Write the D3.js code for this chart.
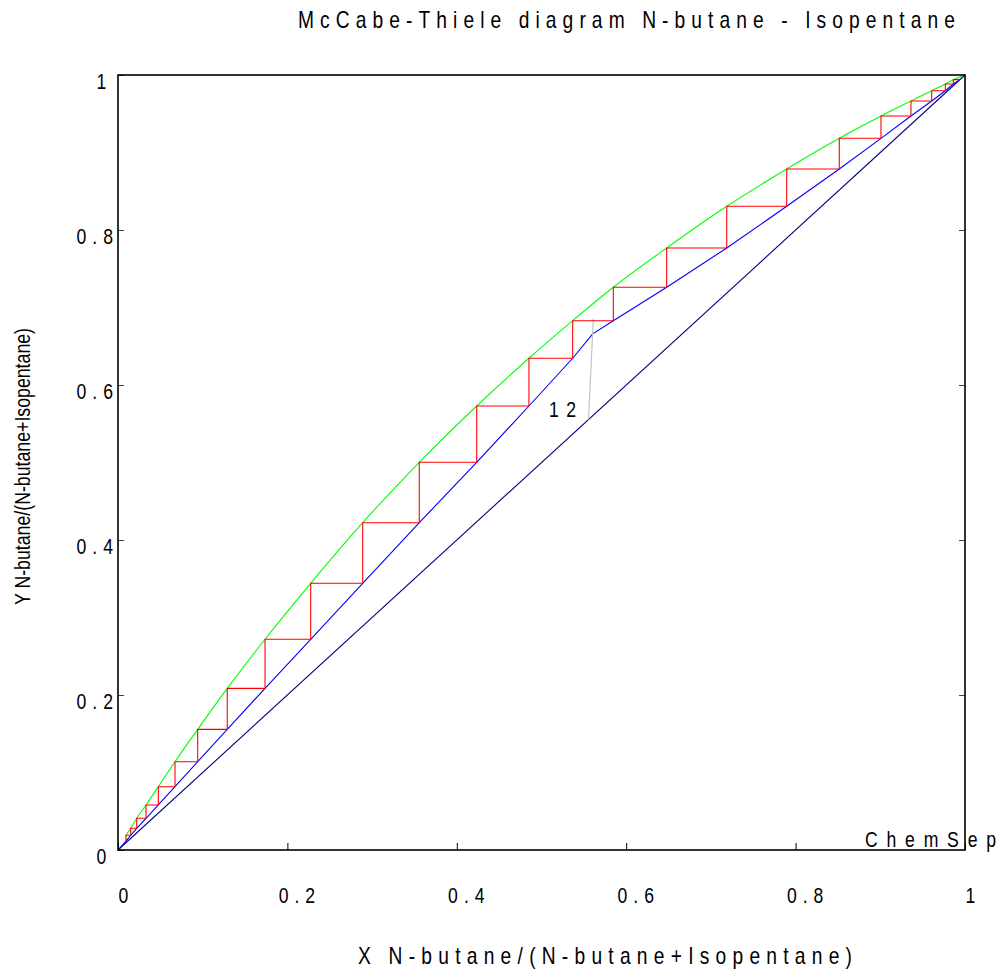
<!DOCTYPE html>
<html>
<head>
<meta charset="utf-8">
<script src="https://cdn.jsdelivr.net/npm/d3@7"></script>
<style>
  html, body { margin: 0; padding: 0; background: #fff; }
  svg { display: block; }
  text { font-family: "Liberation Sans", Arial, sans-serif; fill: #000; }
</style>
</head>
<body>
<svg id="chart" width="1002" height="975"></svg>
<script>
// Liquid (x) and vapour (y) mole fractions of N-butane on each stage, top of column first
const stageX = [0.9862, 0.9768, 0.9607, 0.9362, 0.9008, 0.8516, 0.7895, 0.7187, 0.6478, 0.5848,
                0.5368, 0.4852, 0.4235, 0.3557, 0.2889, 0.2275, 0.1736, 0.1290, 0.0941, 0.0673,
                0.0476, 0.0331, 0.0221, 0.0150, 0.0094];
const stageY = [0.9940, 0.9884, 0.9797, 0.9665, 0.9471, 0.9183, 0.8787, 0.8306, 0.7768, 0.7261,
                0.6830, 0.6345, 0.5729, 0.5003, 0.4223, 0.3441, 0.2719, 0.2086, 0.1557, 0.1139,
                0.0817, 0.0581, 0.0409, 0.0280, 0.0190];

// Top product composition, operating-line value under the last stage, and column ends
const distillateX = 0.994;
const lastOpY = 0.0115;
const opBottomX = [0.0];
const opBottomY = [0.0];

// Where the rectifying and stripping operating lines meet
const feedX = [0.5604];
const feedY = [0.6660];

// Equilibrium curve continues past the top stage
const eqTopX = [0.998];
const eqTopY = [0.999];

// Feed (q) line
const qLineX = [0.5555, 0.5612];
const qLineY = [0.5555, 0.6860];

// y = x diagonal
const diagX = [0, 1];
const diagY = [0, 1];

const tickValues = [0, 0.2, 0.4, 0.6, 0.8, 1];
const feedStageLabel = "12";
const titleText = "McCabe-Thiele diagram N-butane - Isopentane";
const xLabelText = "X N-butane/(N-butane+Isopentane)";
const yLabelText = "Y N-butane/(N-butane+Isopentane)";
const brandText = "ChemSep";

const svg = d3.select("#chart");
const W = 1002, H = 975;
const SX = 0.8; // horizontal squeeze of the condensed lettering
svg.append("rect").attr("width", W).attr("height", H).attr("fill", "#fff");

const x = d3.scaleLinear().domain([0, 1]).range([118, 965]);
const y = d3.scaleLinear().domain([0, 1]).range([850, 75]);

const line = d3.line().x(d => x(d[0])).y(d => y(d[1]));
const zip = (a, b) => a.map((v, i) => [v, b[i]]);

// Condensed, letter-spaced label stretched to a given width
function spacedText(px, py, str, size, width) {
  return svg.append("text")
    .attr("transform", `translate(${px},${py}) scale(${SX},1)`)
    .attr("font-size", size)
    .attr("textLength", width / SX).attr("lengthAdjust", "spacing")
    .text(str);
}

// Diagonal
svg.append("path")
  .attr("d", line(zip(diagX, diagY)))
  .attr("fill", "none").attr("stroke", "#000080").attr("stroke-width", 1.1);

// Operating lines run through the stage corners (x of stage n, y of stage n+1)
const opPts = [[distillateX, distillateX]];
for (let i = 1; i < stageX.length; i++) {
  const p = [stageX[i - 1], stageY[i]];
  if (p[0] < feedX[0] && opPts[opPts.length - 1][0] > feedX[0]) opPts.push([feedX[0], feedY[0]]);
  opPts.push(p);
}
opPts.push([stageX[stageX.length - 1], lastOpY]);
opBottomX.forEach((v, i) => opPts.push([v, opBottomY[i]]));

svg.append("path")
  .attr("d", line(opPts))
  .attr("fill", "none").attr("stroke", "#0000ff").attr("stroke-width", 1.1);

// Equilibrium curve
const eqPts = zip(stageX, stageY).concat(zip(eqTopX, eqTopY)).sort((a, b) => a[0] - b[0]);
svg.append("path")
  .attr("d", d3.line().x(d => x(d[0])).y(d => y(d[1])).curve(d3.curveMonotoneX)(eqPts))
  .attr("fill", "none").attr("stroke", "#00ff00").attr("stroke-width", 1.1);

// q-line
svg.append("path")
  .attr("d", line(zip(qLineX, qLineY)))
  .attr("fill", "none").attr("stroke", "#c0c0c0").attr("stroke-width", 1.1);

// Stage steps
const stepPts = [[distillateX, stageY[0]]];
stageX.forEach((sx, i) => {
  stepPts.push([sx, stageY[i]]);
  stepPts.push([sx, i + 1 < stageY.length ? stageY[i + 1] : lastOpY]);
});
svg.append("path")
  .attr("d", line(stepPts))
  .attr("fill", "none").attr("stroke", "#ff0000").attr("stroke-width", 1.1)
  .attr("stroke-linejoin", "miter");

// Feed stage number
spacedText(549, 417, feedStageLabel, 22, 27);

// Axes
const fmt = d => String(d);

const gBottom = svg.append("g")
  .attr("transform", `translate(0,${y(0)})`)
  .call(d3.axisBottom(x).tickValues(tickValues).tickSize(-7).tickFormat(fmt));
gBottom.select(".domain").remove();
gBottom.selectAll(".tick line").attr("stroke", "#000");
gBottom.selectAll(".tick text")
  .attr("x", 0).attr("y", 0).attr("dy", 0)
  .attr("text-anchor", "start")
  .attr("transform", d => `translate(${-(fmt(d).length - 1) * 4.6},53) scale(${SX},1)`)
  .attr("font-size", 22)
  .attr("letter-spacing", 7.5)
  .attr("font-family", null);

const gLeft = svg.append("g")
  .attr("transform", `translate(${x(0)},0)`)
  .call(d3.axisLeft(y).tickValues(tickValues).tickSize(-6).tickFormat(fmt));
gLeft.select(".domain").remove();
gLeft.selectAll(".tick line").attr("stroke", "#444");
gLeft.selectAll(".tick text")
  .attr("x", 0).attr("y", 0).attr("dy", 0)
  .attr("text-anchor", "start")
  .attr("transform", d => `translate(${-21.5 - (fmt(d).length - 1) * 10},13) scale(${SX},1)`)
  .attr("font-size", 22)
  .attr("letter-spacing", 7.5)
  .attr("font-family", null);

const gRight = svg.append("g")
  .attr("transform", `translate(${x(1)},0)`)
  .call(d3.axisRight(y).tickValues(tickValues.slice(1, -1)).tickSize(-6).tickFormat(""));
gRight.select(".domain").remove();
gRight.selectAll(".tick line").attr("stroke", "#444");

// Plot frame
svg.append("rect")
  .attr("x", x(0)).attr("y", y(1))
  .attr("width", x(1) - x(0)).attr("height", y(0) - y(1))
  .attr("fill", "none").attr("stroke", "#000").attr("stroke-width", 1.6);

// Titles
spacedText(298, 28, titleText, 24, 657);
spacedText(358, 964, xLabelText, 24, 494);

svg.append("text")
  .attr("transform", "translate(30,605) rotate(-90)")
  .attr("font-size", 22)
  .attr("textLength", 277).attr("lengthAdjust", "spacingAndGlyphs")
  .text(yLabelText);

spacedText(865, 847, brandText, 22, 131);
</script>
</body>
</html>
